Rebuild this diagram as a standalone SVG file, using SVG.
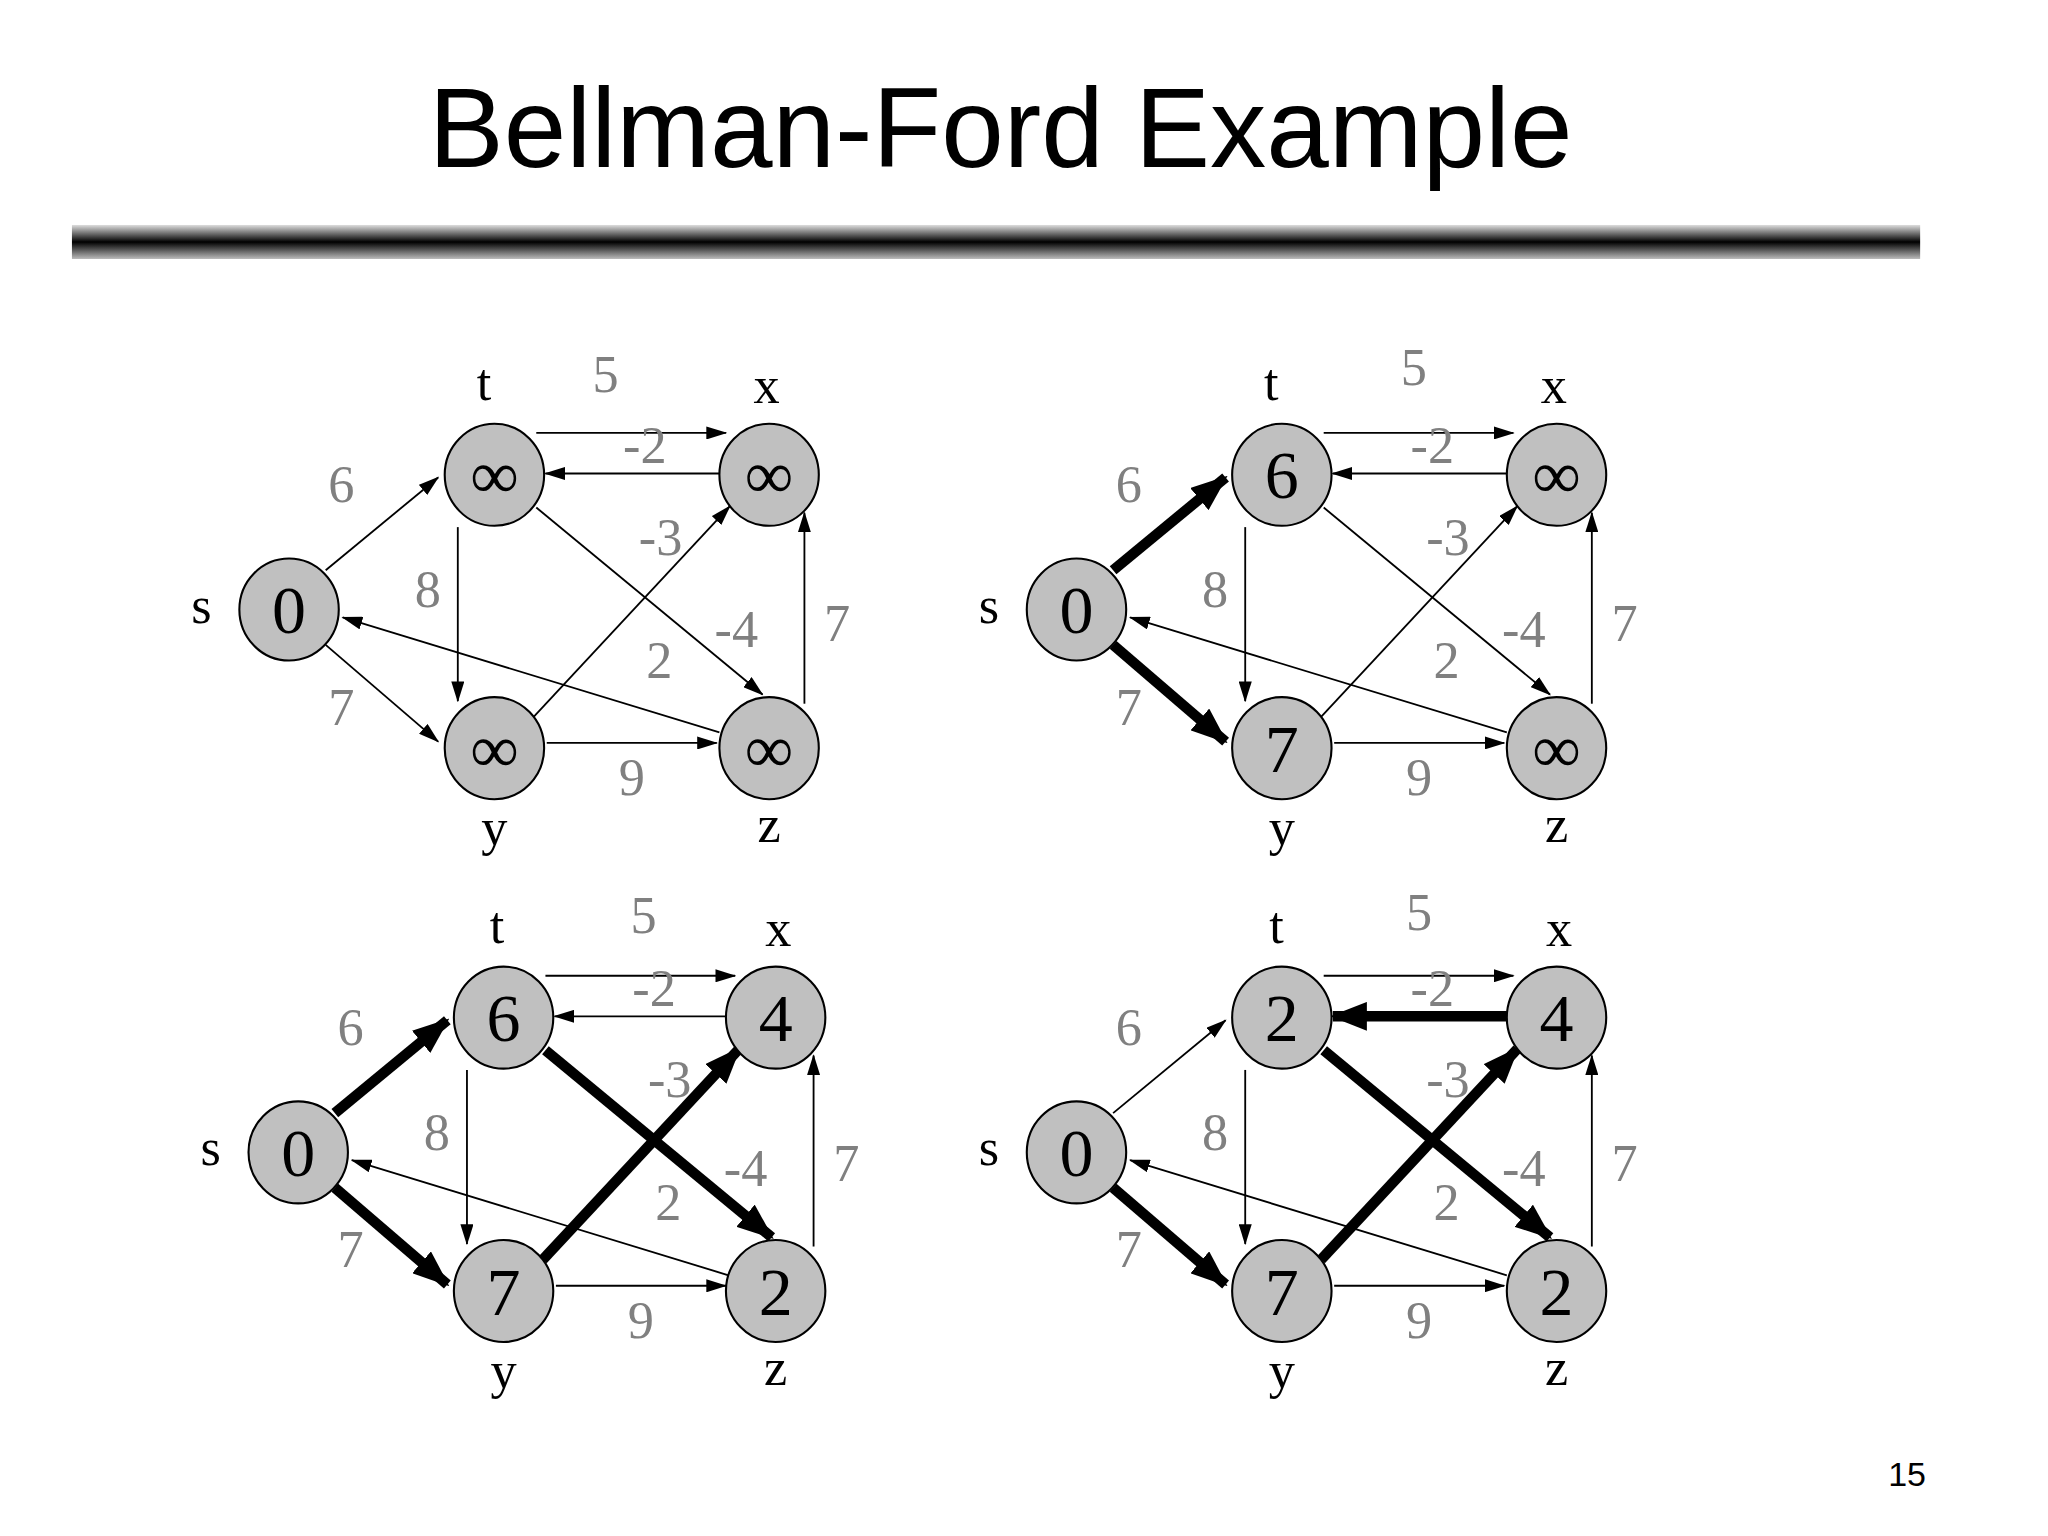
<svg xmlns="http://www.w3.org/2000/svg" width="2048" height="1536" viewBox="0 0 2048 1536">
<style>
.n{fill:#c0c0c0;stroke:#000;stroke-width:1.6}
.v{font-family:"Liberation Serif",serif;font-size:52px;text-anchor:middle;fill:#000}
.l{font-family:"Liberation Serif",serif;font-size:40px;text-anchor:middle;fill:#000}
.w{font-family:"Liberation Serif",serif;font-size:40px;text-anchor:middle;fill:#808080}
.e{stroke:#000;stroke-width:1.4;fill:none;marker-end:url(#a)}
.b{stroke:#000;stroke-width:8;fill:none;marker-end:url(#ab)}
</style>
<defs>
<marker id="a" markerUnits="userSpaceOnUse" markerWidth="16" markerHeight="10" refX="15" refY="5" orient="auto"><path d="M0,0 L16,5 L0,10 Z" fill="#000"/></marker>
<marker id="ab" markerUnits="userSpaceOnUse" markerWidth="28" markerHeight="22" refX="26" refY="11" orient="auto"><path d="M0,0 L28,11 L0,22 Z" fill="#000"/></marker>
<linearGradient id="bar" x1="0" y1="0" x2="0" y2="1"><stop offset="0" stop-color="#ddd"/><stop offset="0.5" stop-color="#000"/><stop offset="1" stop-color="#bbb"/></linearGradient>
</defs>
<rect width="2048" height="1536" fill="#fff"/>
<g transform="scale(1.308)">
<text x="765" y="128" font-family="Liberation Sans,Arial,sans-serif" font-size="86" text-anchor="middle">Bellman-Ford Example</text>
<rect x="55" y="172" width="1413" height="26" fill="url(#bar)"/>
<text x="1458" y="1136" font-family="Liberation Sans,Arial,sans-serif" font-size="26" text-anchor="middle">15</text>

<g transform="translate(221,466)">
<g id="g1-edges">
<line class="e" x1="189" y1="-135" x2="334" y2="-135"/>
<line class="e" x1="329" y1="-104" x2="196" y2="-104"/>
<line class="e" x1="28" y1="-30" x2="114" y2="-101"/>
<line class="e" x1="28" y1="27" x2="114" y2="101"/>
<line class="e" x1="129" y1="-63" x2="129" y2="70"/>
<line class="e" x1="189" y1="-78" x2="362" y2="65"/>
<line class="e" x1="187" y1="82" x2="337" y2="-79"/>
<line class="e" x1="329" y1="94" x2="41" y2="6"/>
<line class="e" x1="197" y1="102" x2="327" y2="102"/>
<line class="e" x1="394" y1="72" x2="394" y2="-74"/>
</g>
<g id="g1-s"><ellipse class="n" cx="0" cy="0" rx="38" ry="39"/><text class="v" x="0" y="18">0</text><text class="l" x="-67" y="10">s</text></g>
<g id="g1-t"><ellipse class="n" cx="157" cy="-103" rx="38" ry="39"/><text class="v" x="157" y="-85">∞</text><text class="l" x="149" y="-160">t</text></g>
<g id="g1-x"><ellipse class="n" cx="367" cy="-103" rx="38" ry="39"/><text class="v" x="367" y="-85">∞</text><text class="l" x="365" y="-158">x</text></g>
<g id="g1-y"><ellipse class="n" cx="157" cy="106" rx="38" ry="39"/><text class="v" x="157" y="124">∞</text><text class="l" x="157" y="180">y</text></g>
<g id="g1-z"><ellipse class="n" cx="367" cy="106" rx="38" ry="39"/><text class="v" x="367" y="124">∞</text><text class="l" x="367" y="178">z</text></g>
<g id="g1-w"><text class="w" x="40" y="-82">6</text><text class="w" x="40" y="88">7</text><text class="w" x="242" y="-166">5</text><text class="w" x="272" y="-112">-2</text><text class="w" x="284" y="-42">-3</text><text class="w" x="106" y="-2">8</text><text class="w" x="342" y="29">-4</text><text class="w" x="419" y="24">7</text><text class="w" x="283" y="52">2</text><text class="w" x="262" y="142">9</text></g>
</g>

<g transform="translate(823,466)">
<g id="g2-edges">
<line class="e" x1="189" y1="-135" x2="334" y2="-135"/>
<line class="e" x1="329" y1="-104" x2="196" y2="-104"/>
<line class="b" x1="28" y1="-30" x2="114" y2="-101"/>
<line class="b" x1="28" y1="27" x2="114" y2="101"/>
<line class="e" x1="129" y1="-63" x2="129" y2="70"/>
<line class="e" x1="189" y1="-78" x2="362" y2="65"/>
<line class="e" x1="187" y1="82" x2="337" y2="-79"/>
<line class="e" x1="329" y1="94" x2="41" y2="6"/>
<line class="e" x1="197" y1="102" x2="327" y2="102"/>
<line class="e" x1="394" y1="72" x2="394" y2="-74"/>
</g>
<g id="g2-s"><ellipse class="n" cx="0" cy="0" rx="38" ry="39"/><text class="v" x="0" y="18">0</text><text class="l" x="-67" y="10">s</text></g>
<g id="g2-t"><ellipse class="n" cx="157" cy="-103" rx="38" ry="39"/><text class="v" x="157" y="-85">6</text><text class="l" x="149" y="-160">t</text></g>
<g id="g2-x"><ellipse class="n" cx="367" cy="-103" rx="38" ry="39"/><text class="v" x="367" y="-85">∞</text><text class="l" x="365" y="-158">x</text></g>
<g id="g2-y"><ellipse class="n" cx="157" cy="106" rx="38" ry="39"/><text class="v" x="157" y="124">7</text><text class="l" x="157" y="180">y</text></g>
<g id="g2-z"><ellipse class="n" cx="367" cy="106" rx="38" ry="39"/><text class="v" x="367" y="124">∞</text><text class="l" x="367" y="178">z</text></g>
<g id="g2-w"><text class="w" x="40" y="-82">6</text><text class="w" x="40" y="88">7</text><text class="w" x="258" y="-172">5</text><text class="w" x="272" y="-112">-2</text><text class="w" x="284" y="-42">-3</text><text class="w" x="106" y="-2">8</text><text class="w" x="342" y="29">-4</text><text class="w" x="419" y="24">7</text><text class="w" x="283" y="52">2</text><text class="w" x="262" y="142">9</text></g>
</g>

<g transform="translate(228,881)">
<g id="g3-edges">
<line class="e" x1="189" y1="-135" x2="334" y2="-135"/>
<line class="e" x1="329" y1="-104" x2="196" y2="-104"/>
<line class="b" x1="28" y1="-30" x2="114" y2="-101"/>
<line class="b" x1="28" y1="27" x2="114" y2="101"/>
<line class="e" x1="129" y1="-63" x2="129" y2="70"/>
<line class="b" x1="189" y1="-78" x2="362" y2="65"/>
<line class="b" x1="187" y1="82" x2="337" y2="-79"/>
<line class="e" x1="329" y1="94" x2="41" y2="6"/>
<line class="e" x1="197" y1="102" x2="327" y2="102"/>
<line class="e" x1="394" y1="72" x2="394" y2="-74"/>
</g>
<g id="g3-s"><ellipse class="n" cx="0" cy="0" rx="38" ry="39"/><text class="v" x="0" y="18">0</text><text class="l" x="-67" y="10">s</text></g>
<g id="g3-t"><ellipse class="n" cx="157" cy="-103" rx="38" ry="39"/><text class="v" x="157" y="-85">6</text><text class="l" x="152" y="-160">t</text></g>
<g id="g3-x"><ellipse class="n" cx="365" cy="-103" rx="38" ry="39"/><text class="v" x="365" y="-85">4</text><text class="l" x="367" y="-158">x</text></g>
<g id="g3-y"><ellipse class="n" cx="157" cy="106" rx="38" ry="39"/><text class="v" x="157" y="124">7</text><text class="l" x="157" y="180">y</text></g>
<g id="g3-z"><ellipse class="n" cx="365" cy="106" rx="38" ry="39"/><text class="v" x="365" y="124">2</text><text class="l" x="365" y="178">z</text></g>
<g id="g3-w"><text class="w" x="40" y="-82">6</text><text class="w" x="40" y="88">7</text><text class="w" x="264" y="-168">5</text><text class="w" x="272" y="-112">-2</text><text class="w" x="284" y="-42">-3</text><text class="w" x="106" y="-2">8</text><text class="w" x="342" y="26">-4</text><text class="w" x="419" y="22">7</text><text class="w" x="283" y="52">2</text><text class="w" x="262" y="142">9</text></g>
</g>

<g transform="translate(823,881)">
<g id="g4-edges">
<line class="e" x1="189" y1="-135" x2="334" y2="-135"/>
<line class="b" x1="329" y1="-104" x2="196" y2="-104"/>
<line class="e" x1="28" y1="-30" x2="114" y2="-101"/>
<line class="b" x1="28" y1="27" x2="114" y2="101"/>
<line class="e" x1="129" y1="-63" x2="129" y2="70"/>
<line class="b" x1="189" y1="-78" x2="362" y2="65"/>
<line class="b" x1="187" y1="82" x2="337" y2="-79"/>
<line class="e" x1="329" y1="94" x2="41" y2="6"/>
<line class="e" x1="197" y1="102" x2="327" y2="102"/>
<line class="e" x1="394" y1="72" x2="394" y2="-74"/>
</g>
<g id="g4-s"><ellipse class="n" cx="0" cy="0" rx="38" ry="39"/><text class="v" x="0" y="18">0</text><text class="l" x="-67" y="10">s</text></g>
<g id="g4-t"><ellipse class="n" cx="157" cy="-103" rx="38" ry="39"/><text class="v" x="157" y="-85">2</text><text class="l" x="153" y="-160">t</text></g>
<g id="g4-x"><ellipse class="n" cx="367" cy="-103" rx="38" ry="39"/><text class="v" x="367" y="-85">4</text><text class="l" x="369" y="-158">x</text></g>
<g id="g4-y"><ellipse class="n" cx="157" cy="106" rx="38" ry="39"/><text class="v" x="157" y="124">7</text><text class="l" x="157" y="180">y</text></g>
<g id="g4-z"><ellipse class="n" cx="367" cy="106" rx="38" ry="39"/><text class="v" x="367" y="124">2</text><text class="l" x="367" y="178">z</text></g>
<g id="g4-w"><text class="w" x="40" y="-82">6</text><text class="w" x="40" y="88">7</text><text class="w" x="262" y="-170">5</text><text class="w" x="272" y="-112">-2</text><text class="w" x="284" y="-42">-3</text><text class="w" x="106" y="-2">8</text><text class="w" x="342" y="26">-4</text><text class="w" x="419" y="22">7</text><text class="w" x="283" y="52">2</text><text class="w" x="262" y="142">9</text></g>
</g>
</g>
</svg>
